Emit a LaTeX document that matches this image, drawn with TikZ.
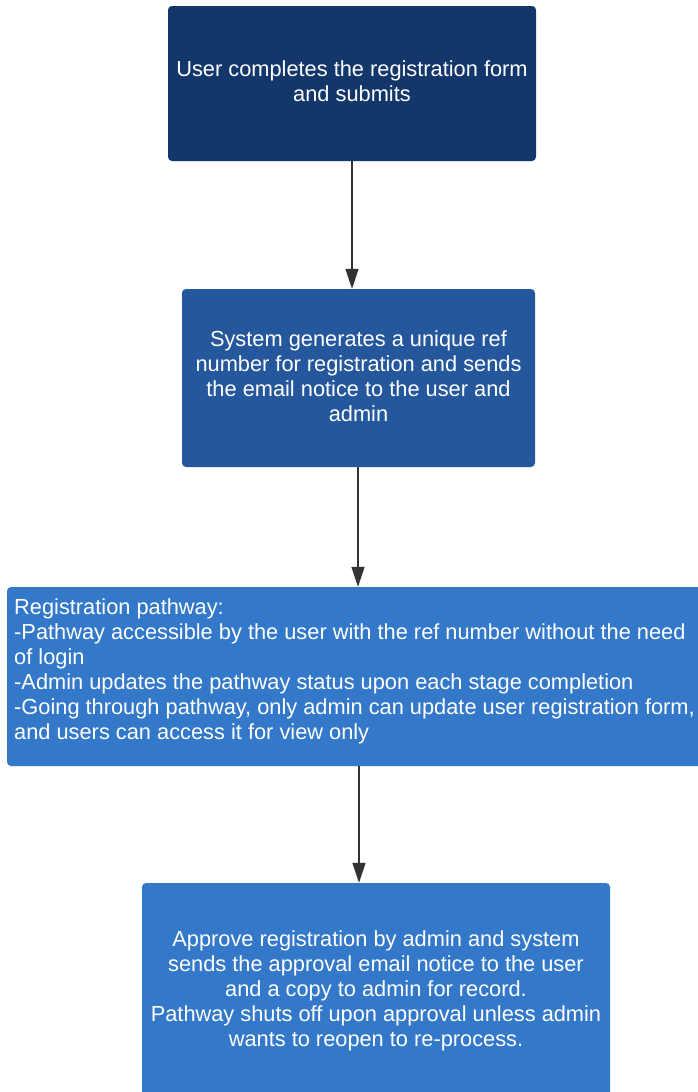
\documentclass[tikz,border=0pt]{standalone}
\usepackage{fontspec}
\setmainfont{Liberation Sans}
\usetikzlibrary{arrows.meta}

\definecolor{navy}{RGB}{19,54,107}
\definecolor{midblue}{RGB}{37,87,157}
\definecolor{brightblue}{RGB}{51,120,201}
\definecolor{linegray}{RGB}{51,51,51}

\tikzset{
  box/.style={rectangle, rounded corners=4pt, draw=none, inner sep=0pt},
  label/.style={text=white, inner sep=0pt, font=\fontsize{21.8}{25}\selectfont},
  conn/.style={draw=linegray, line width=1.4pt,
    -{Triangle[length=20pt,width=13pt]}}
}

\begin{document}
\begin{tikzpicture}[x=1pt,y=-1pt]
  \useasboundingbox[fill=white] (0,0) rectangle (698,1092);

  % process boxes
  \node[box, fill=navy, minimum width=368pt, minimum height=155pt] (b1) at (352,83.5) {};
  \node[box, fill=midblue, minimum width=353pt, minimum height=178pt] (b2) at (358.5,378) {};
  \node[box, fill=brightblue, minimum width=703pt, minimum height=179pt] (b3) at (358.5,676.5) {};
  \node[box, fill=brightblue, minimum width=468pt, minimum height=217pt] (b4) at (376,991.5) {};

  % box texts
  \node[label, anchor=north, align=center] (t1) at (352,61)
    {User completes the registration form\\and submits};
  \node[label, anchor=north, align=center] (t2) at (358.5,330)
    {System generates a unique ref\\number for registration and sends\\the email notice to the user and\\admin};
  \node[label, anchor=north west, align=left] (t3) at (14,598)
    {Registration pathway:\\
     -Pathway accessible by the user with the ref number without the need\\
     of login\\
     -Admin updates the pathway status upon each stage completion\\
     -Going through pathway, only admin can update user registration form,\\
     and users can access it for view only};
  \node[label, anchor=north, align=center] (t4) at (376,930)
    {Approve registration by admin and system\\sends the approval email notice to the user\\and a copy to admin for record.\\Pathway shuts off upon approval unless admin\\wants to reopen to re-process.};

  % connectors
  \draw[conn] (b1.south) -- ([xshift=-6.5pt]b2.north);
  \draw[conn] ([xshift=-0.5pt]b2.south) -- ([xshift=-0.5pt]b3.north);
  \draw[conn] ([xshift=0.5pt]b3.south) -- ([xshift=-17pt]b4.north);
\end{tikzpicture}
\end{document}
